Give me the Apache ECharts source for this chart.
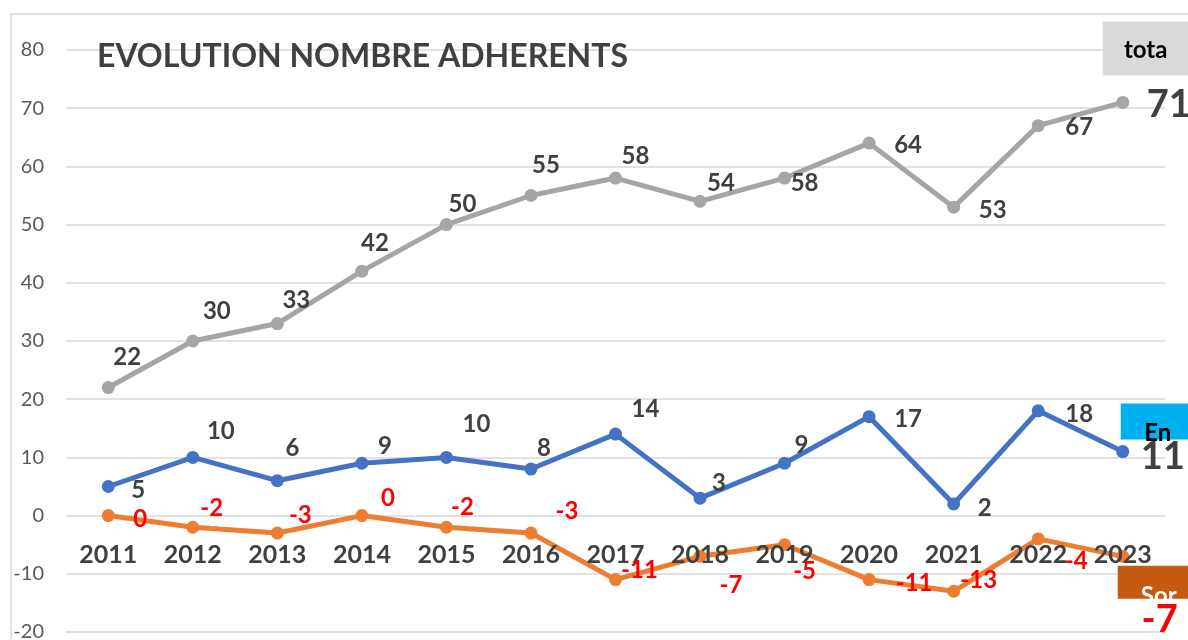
<!DOCTYPE html>
<html>
<head>
<meta charset="utf-8">
<script src="https://cdn.jsdelivr.net/npm/echarts@6/dist/echarts.min.js"></script>
<style>
  html, body { margin: 0; padding: 0; background: #fff; }
  #chart { width: 1188px; height: 640px; }
</style>
</head>
<body>
<div id="chart"></div>
<script>
const years = ['2011', '2012', '2013', '2014', '2015', '2016', '2017', '2018', '2019', '2020', '2021', '2022', '2023'];
const total = [22, 30, 33, 42, 50, 55, 58, 54, 58, 64, 53, 67, 71];
const entrees = [5, 10, 6, 9, 10, 8, 14, 3, 9, 17, 2, 18, 11];
const sorties = [0, -2, -3, 0, -2, -3, -11, -7, -5, -11, -13, -4, -7];
const yTicks = { min: -20, max: 80, step: 10 };

// where each value label sits relative to its point (hand placed, like in the excel file)
const totalLabelPos = [[19,-30],[24,-30],[19,-23],[13,-28],[16,-20],[15,-30],[20,-22],[21,-18],[20,5],[39,2],[39,3],[41,2],[46,2]];
const entreesLabelPos = [[30,4],[28,-26],[15,-32],[23,-17],[30,-33],[13,-21],[30,-25],[19,-15],[17,-18],[39,3],[31,4],[41,3],[40,5]];
const sortiesLabelPos = [[32,4],[19,-19],[23,-18],[26,-17],[16,-20],[36,-22],[24,-9],[31,29],[20,27],[45,4],[25,-11],[38,22],[37,63]];

const FONT = 'Lato, "Open Sans", sans-serif';
const GRID = { left: 66, right: 23, top: 50, bottom: 8 };

function buildData(values, offsets, color) {
  return values.map(function (v, i) {
    const last = i === values.length - 1;
    return {
      value: v,
      label: {
        offset: offsets[i],
        fontSize: last ? 38 : 24,
        color: color
      }
    };
  });
}

function nameBox(value, text, color, textColor, offset, textOffset, w, h) {
  return {
    symbol: 'rect',
    symbolSize: [w, h],
    silent: true,
    data: [{ coord: [years[years.length - 1], value], symbolOffset: offset }],
    itemStyle: { color: color },
    label: {
      show: true,
      position: 'inside',
      formatter: text,
      offset: textOffset,
      color: textColor,
      fontFamily: FONT,
      fontWeight: 'bold',
      fontSize: 24
    }
  };
}

// the line itself, drawn under the year labels
function lineSeries(name, values, color, box) {
  return {
    name: name,
    type: 'line',
    z: 2,
    data: values,
    symbol: 'circle',
    symbolSize: 13,
    lineStyle: { width: 5, color: color },
    itemStyle: { color: color },
    label: { show: false },
    markPoint: box
  };
}

// value labels only, drawn over the year labels
function labelSeries(name, values, offsets, labelColor) {
  return {
    name: name,
    type: 'line',
    z: 5,
    data: buildData(values, offsets, labelColor),
    symbol: 'circle',
    symbolSize: 2,
    lineStyle: { width: 0, color: 'rgba(0,0,0,0)' },
    itemStyle: { color: 'rgba(0,0,0,0)' },
    silent: true,
    label: {
      show: true,
      position: 'inside',
      fontFamily: FONT,
      fontWeight: 'bold',
      fontSize: 24,
      color: labelColor
    }
  };
}

// the category labels sit under the 0 line, not at the bottom of the plot
const plotH = 640 - GRID.top - GRID.bottom;
const zeroShift = plotH * (0 - yTicks.min) / (yTicks.max - yTicks.min);

const chart = echarts.init(document.getElementById('chart'));

const option = {
  animation: false,
  title: {
    text: 'EVOLUTION NOMBRE ADHERENTS',
    left: 92,
    top: 36,
    textStyle: { fontFamily: FONT, fontWeight: 'bold', fontSize: 32, color: '#404040' }
  },
  graphic: [{
    type: 'rect',
    shape: { x: 11, y: 14, width: 1300, height: 700 },
    style: { fill: 'none', stroke: '#d9d9d9', lineWidth: 1.5 },
    silent: true,
    z: -10
  }],
  grid: Object.assign({ outerBoundsMode: 'none' }, GRID),
  xAxis: {
    type: 'category',
    data: years,
    z: 3,
    offset: -zeroShift,
    axisLine: { show: false, onZero: false },
    axisTick: { show: false },
    axisLabel: { margin: 27, fontFamily: FONT, fontWeight: 'bold', fontSize: 25, color: '#404040' }
  },
  yAxis: {
    type: 'value',
    min: yTicks.min,
    max: yTicks.max,
    interval: yTicks.step,
    axisLine: { show: false },
    axisTick: { show: false },
    axisLabel: { margin: 22, fontFamily: FONT, fontSize: 20, color: '#595959' },
    splitLine: { lineStyle: { color: '#d9d9d9', width: 1.5 } }
  },
  series: [
    lineSeries('total', total, '#a5a5a5',
      nameBox(total[total.length - 1], 'tota', '#d9d9d9', '#000', [30, -54], [-7, 2], 100, 54)),
    lineSeries('Entrées', entrees, '#4472c4',
      nameBox(entrees[entrees.length - 1], 'En', '#00b0f0', '#000', [43, -30], [-8, 12], 90, 36)),
    lineSeries('Sorties', sorties, '#ed7d31',
      nameBox(sorties[sorties.length - 1], 'Sor', '#c55a11', '#fff', [40, 26], [-4, 14], 90, 33)),
    labelSeries('total labels', total, totalLabelPos, '#404040'),
    labelSeries('Entrées labels', entrees, entreesLabelPos, '#404040'),
    labelSeries('Sorties labels', sorties, sortiesLabelPos, '#ff0000')
  ]
};

chart.setOption(option);
</script>
</body>
</html>
